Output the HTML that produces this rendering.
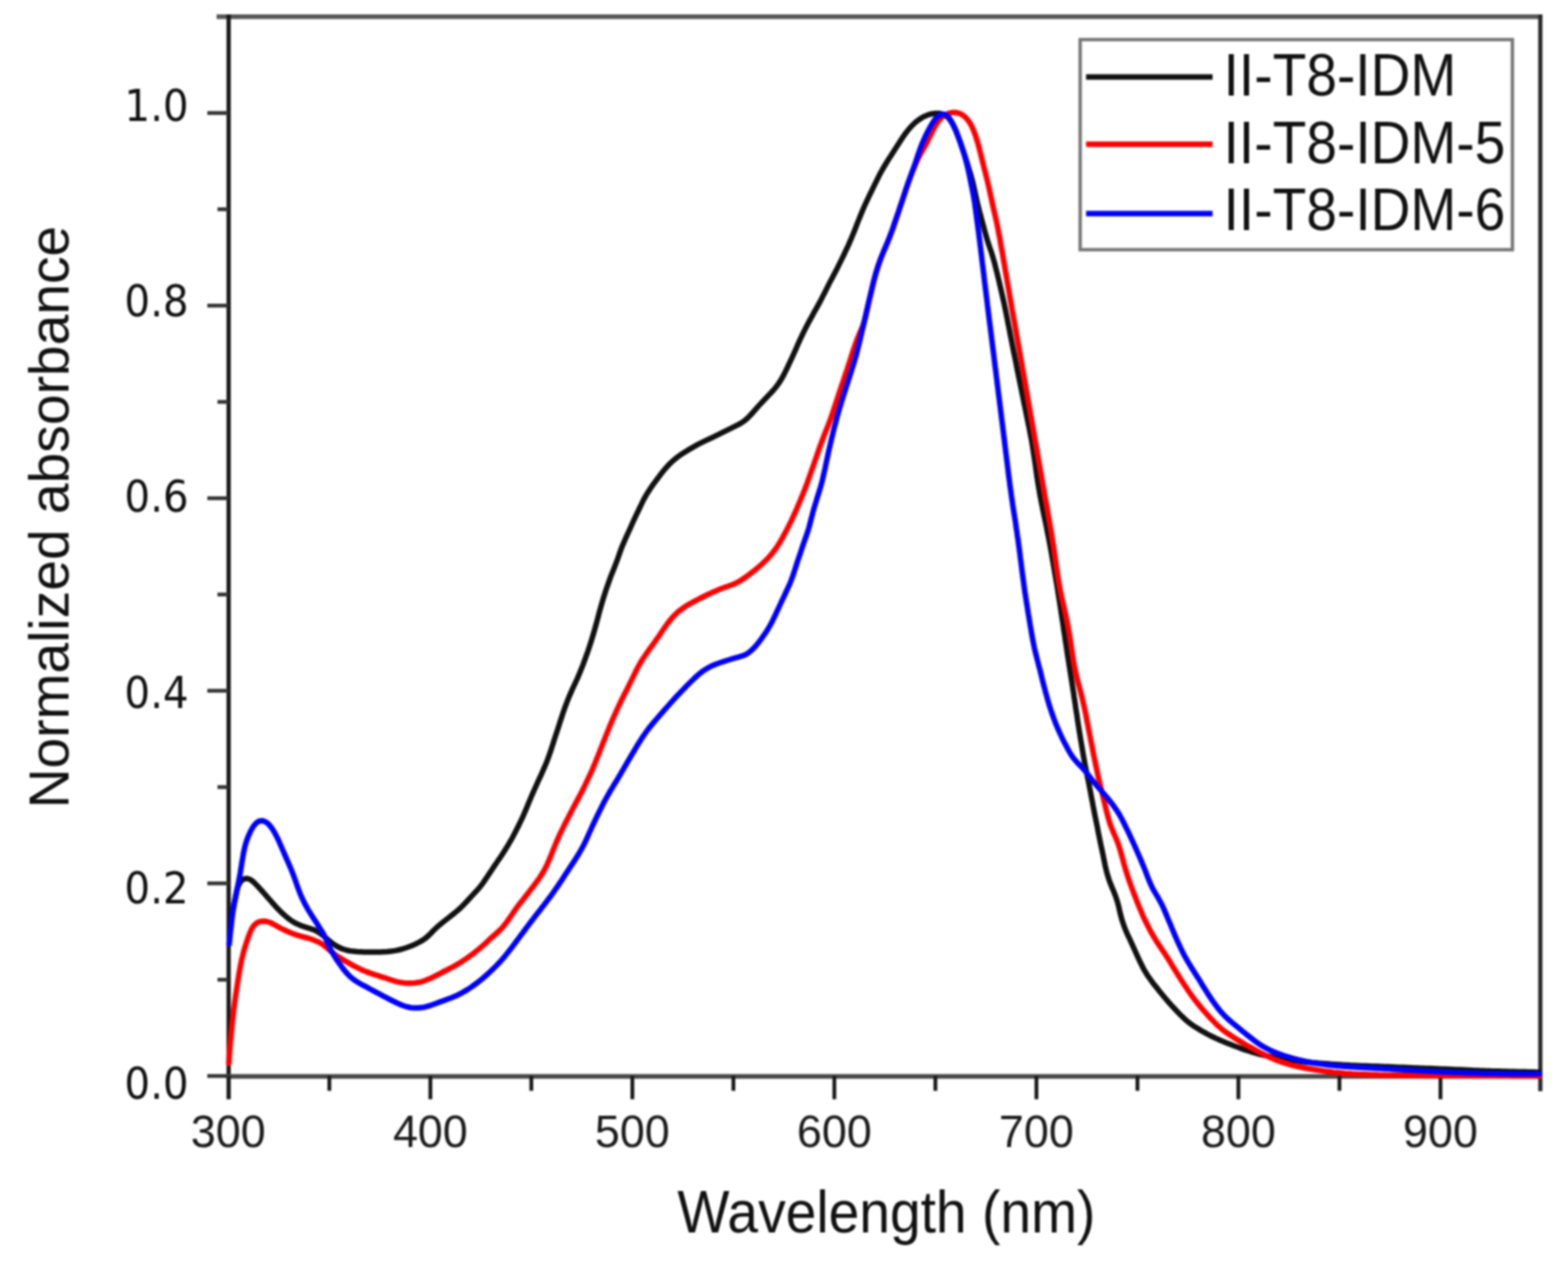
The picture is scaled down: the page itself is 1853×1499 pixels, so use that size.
<!DOCTYPE html>
<html><head><meta charset="utf-8"><title>Normalized absorbance</title>
<style>html,body{margin:0;padding:0;background:#fff;width:1853px;height:1499px;overflow:hidden}svg{display:block;filter:blur(1.1px)}</style>
</head><body>
<svg width="1853" height="1499" viewBox="0 0 1853 1499">
<rect x="0" y="0" width="1853" height="1499" fill="#ffffff"/>
<g><line x1="256" y1="19.7" x2="1822.5" y2="19.7" stroke="#555" stroke-width="5.5"/><line x1="270.2" y1="17" x2="270.2" y2="1275" stroke="#161616" stroke-width="5"/><line x1="1820.3" y1="17" x2="1820.3" y2="1290" stroke="#2a2a2a" stroke-width="5"/><line x1="267.7" y1="1272.4" x2="1822.8" y2="1272.4" stroke="#484848" stroke-width="5.5"/><line x1="389.2" y1="1272" x2="389.2" y2="1289.5" stroke="#181818" stroke-width="4.5"/><line x1="508.6" y1="1272" x2="508.6" y2="1299.5" stroke="#181818" stroke-width="4.5"/><line x1="627.9" y1="1272" x2="627.9" y2="1289.5" stroke="#181818" stroke-width="4.5"/><line x1="747.3" y1="1272" x2="747.3" y2="1299.5" stroke="#181818" stroke-width="4.5"/><line x1="866.7" y1="1272" x2="866.7" y2="1289.5" stroke="#181818" stroke-width="4.5"/><line x1="986.0" y1="1272" x2="986.0" y2="1299.5" stroke="#181818" stroke-width="4.5"/><line x1="1105.4" y1="1272" x2="1105.4" y2="1289.5" stroke="#181818" stroke-width="4.5"/><line x1="1224.8" y1="1272" x2="1224.8" y2="1299.5" stroke="#181818" stroke-width="4.5"/><line x1="1344.2" y1="1272" x2="1344.2" y2="1289.5" stroke="#181818" stroke-width="4.5"/><line x1="1463.5" y1="1272" x2="1463.5" y2="1299.5" stroke="#181818" stroke-width="4.5"/><line x1="1582.9" y1="1272" x2="1582.9" y2="1289.5" stroke="#181818" stroke-width="4.5"/><line x1="1702.3" y1="1272" x2="1702.3" y2="1299.5" stroke="#181818" stroke-width="4.5"/><line x1="270.2" y1="1272" x2="270.2" y2="1299.5" stroke="#181818" stroke-width="5"/><line x1="245" y1="1272.0" x2="270" y2="1272.0" stroke="#333" stroke-width="4.5"/><line x1="257" y1="1158.2" x2="270" y2="1158.2" stroke="#333" stroke-width="4.5"/><line x1="245" y1="1044.3" x2="270" y2="1044.3" stroke="#333" stroke-width="4.5"/><line x1="257" y1="930.5" x2="270" y2="930.5" stroke="#333" stroke-width="4.5"/><line x1="245" y1="816.6" x2="270" y2="816.6" stroke="#333" stroke-width="4.5"/><line x1="257" y1="702.8" x2="270" y2="702.8" stroke="#333" stroke-width="4.5"/><line x1="245" y1="589.0" x2="270" y2="589.0" stroke="#333" stroke-width="4.5"/><line x1="257" y1="475.1" x2="270" y2="475.1" stroke="#333" stroke-width="4.5"/><line x1="245" y1="361.3" x2="270" y2="361.3" stroke="#333" stroke-width="4.5"/><line x1="257" y1="247.4" x2="270" y2="247.4" stroke="#333" stroke-width="4.5"/><line x1="245" y1="133.6" x2="270" y2="133.6" stroke="#333" stroke-width="4.5"/></g>
<g><text x="269.8" y="1356" text-anchor="middle" font-size="53" fill="#1a1a1a" font-family="Liberation Sans, Arial, sans-serif">300</text><text x="508.6" y="1356" text-anchor="middle" font-size="53" fill="#1a1a1a" font-family="Liberation Sans, Arial, sans-serif">400</text><text x="747.3" y="1356" text-anchor="middle" font-size="53" fill="#1a1a1a" font-family="Liberation Sans, Arial, sans-serif">500</text><text x="986.0" y="1356" text-anchor="middle" font-size="53" fill="#1a1a1a" font-family="Liberation Sans, Arial, sans-serif">600</text><text x="1224.8" y="1356" text-anchor="middle" font-size="53" fill="#1a1a1a" font-family="Liberation Sans, Arial, sans-serif">700</text><text x="1463.5" y="1356" text-anchor="middle" font-size="53" fill="#1a1a1a" font-family="Liberation Sans, Arial, sans-serif">800</text><text x="1702.3" y="1356" text-anchor="middle" font-size="53" fill="#1a1a1a" font-family="Liberation Sans, Arial, sans-serif">900</text><text x="147" y="143.0" font-size="51.5" fill="#111" textLength="76" lengthAdjust="spacingAndGlyphs" font-family="DejaVu Sans, sans-serif">1.0</text><text x="147" y="374.3" font-size="51.5" fill="#111" textLength="76" lengthAdjust="spacingAndGlyphs" font-family="DejaVu Sans, sans-serif">0.8</text><text x="147" y="604.6" font-size="51.5" fill="#111" textLength="76" lengthAdjust="spacingAndGlyphs" font-family="DejaVu Sans, sans-serif">0.6</text><text x="147" y="837.2" font-size="51.5" fill="#111" textLength="76" lengthAdjust="spacingAndGlyphs" font-family="DejaVu Sans, sans-serif">0.4</text><text x="147" y="1067.7" font-size="51.5" fill="#111" textLength="76" lengthAdjust="spacingAndGlyphs" font-family="DejaVu Sans, sans-serif">0.2</text><text x="147" y="1298.5" font-size="51.5" fill="#111" textLength="76" lengthAdjust="spacingAndGlyphs" font-family="DejaVu Sans, sans-serif">0.0</text><text x="800.5" y="1456.5" font-size="70" fill="#111" textLength="494" lengthAdjust="spacingAndGlyphs" font-family="Liberation Sans, Arial, sans-serif">Wavelength (nm)</text><text transform="translate(80.6,955.5) rotate(-90)" x="0" y="0" font-size="66.5" fill="#111" textLength="688.5" lengthAdjust="spacingAndGlyphs" font-family="Liberation Sans, Arial, sans-serif">Normalized absorbance</text></g>
<path d="M275.6,1074.8 L276.5,1070.4 L277.3,1066.0 L278.2,1061.5 L279.1,1057.1 L280.0,1052.8 L281.2,1048.5 L282.9,1044.5 L285.3,1041.2 L288.4,1039.0 L292.0,1038.5 L295.5,1039.6 L298.9,1042.0 L302.1,1045.1 L305.1,1048.3 L308.2,1051.7 L311.2,1055.0 L314.1,1058.4 L317.1,1061.8 L320.1,1065.2 L323.0,1068.6 L326.1,1071.9 L329.1,1075.2 L332.3,1078.3 L335.6,1081.4 L339.0,1084.4 L342.5,1087.1 L346.2,1089.6 L350.2,1091.8 L354.2,1093.6 L358.4,1095.2 L362.7,1096.6 L367.0,1097.9 L371.2,1099.3 L375.2,1101.2 L378.9,1103.7 L382.4,1106.4 L385.8,1109.4 L389.2,1112.3 L392.7,1115.1 L396.4,1117.6 L400.3,1119.8 L404.3,1121.7 L408.6,1123.0 L412.9,1124.0 L417.4,1124.6 L421.8,1125.0 L426.3,1125.2 L430.8,1125.4 L435.3,1125.5 L439.8,1125.5 L444.3,1125.5 L448.8,1125.4 L453.3,1125.2 L457.8,1125.0 L462.3,1124.5 L466.7,1123.9 L471.1,1123.0 L475.5,1121.8 L479.8,1120.5 L484.0,1119.0 L488.2,1117.4 L492.3,1115.5 L496.2,1113.4 L500.1,1111.1 L503.7,1108.5 L507.0,1105.5 L510.1,1102.4 L513.3,1099.1 L516.5,1096.0 L519.9,1093.1 L523.4,1090.3 L526.9,1087.5 L530.4,1084.7 L534.0,1081.9 L537.5,1079.1 L540.9,1076.2 L544.3,1073.2 L547.5,1070.0 L550.6,1066.8 L553.6,1063.5 L556.7,1060.1 L559.7,1056.9 L562.8,1053.6 L565.8,1050.2 L568.6,1046.8 L571.3,1043.1 L573.8,1039.4 L576.3,1035.7 L578.8,1031.9 L581.3,1028.2 L583.8,1024.4 L586.3,1020.7 L588.8,1017.0 L591.4,1013.3 L593.9,1009.5 L596.3,1005.8 L598.7,1001.9 L601.0,998.1 L603.3,994.2 L605.5,990.2 L607.6,986.3 L609.7,982.3 L611.7,978.3 L613.7,974.3 L615.7,970.2 L617.6,966.1 L619.4,962.0 L621.1,957.9 L622.9,953.7 L624.6,949.5 L626.3,945.4 L628.1,941.2 L629.9,937.1 L631.7,933.0 L633.6,928.9 L635.4,924.8 L637.3,920.7 L639.2,916.6 L641.0,912.5 L642.8,908.4 L644.6,904.3 L646.3,900.1 L647.9,895.9 L649.4,891.7 L650.9,887.4 L652.3,883.1 L653.7,878.8 L655.0,874.5 L656.4,870.3 L657.8,866.0 L659.2,861.7 L660.6,857.4 L662.0,853.1 L663.4,848.9 L664.8,844.6 L666.2,840.3 L667.7,836.1 L669.3,831.9 L670.9,827.7 L672.6,823.5 L674.4,819.4 L676.2,815.2 L678.1,811.2 L680.0,807.1 L681.9,803.0 L683.7,798.9 L685.4,794.7 L687.1,790.6 L688.8,786.4 L690.3,782.2 L691.9,777.9 L693.4,773.7 L694.9,769.5 L696.3,765.2 L697.7,760.9 L699.1,756.6 L700.4,752.3 L701.7,748.0 L702.9,743.7 L704.1,739.3 L705.3,735.0 L706.5,730.7 L707.6,726.3 L708.8,721.9 L710.0,717.6 L711.2,713.3 L712.5,709.0 L713.8,704.7 L715.2,700.4 L716.6,696.1 L718.1,691.9 L719.6,687.6 L721.1,683.4 L722.7,679.2 L724.4,675.0 L726.1,670.8 L727.7,666.6 L729.3,662.4 L730.8,658.2 L732.3,653.9 L733.8,649.7 L735.4,645.5 L737.2,641.4 L739.0,637.2 L740.8,633.1 L742.7,629.0 L744.6,624.9 L746.4,620.8 L748.2,616.7 L750.1,612.6 L752.0,608.6 L754.0,604.5 L755.9,600.5 L757.9,596.4 L759.8,592.3 L761.9,588.4 L764.1,584.5 L766.5,580.7 L769.0,576.9 L771.6,573.2 L774.2,569.6 L776.9,566.0 L779.6,562.4 L782.3,558.8 L785.2,555.3 L788.1,551.9 L791.2,548.6 L794.4,545.5 L797.8,542.6 L801.3,539.8 L805.0,537.2 L808.8,534.8 L812.6,532.4 L816.5,530.1 L820.4,527.9 L824.3,525.7 L828.3,523.7 L832.4,521.7 L836.4,519.7 L840.5,517.8 L844.5,515.8 L848.6,513.8 L852.6,511.8 L856.6,509.8 L860.7,507.8 L864.7,505.8 L868.7,503.8 L872.7,501.8 L876.6,499.7 L880.2,497.1 L883.5,494.2 L886.6,491.0 L889.6,487.7 L892.6,484.3 L895.6,480.9 L898.6,477.6 L901.7,474.3 L904.8,471.0 L907.9,467.8 L911.0,464.5 L914.0,461.2 L916.9,457.7 L919.6,454.1 L922.1,450.4 L924.4,446.5 L926.5,442.6 L928.5,438.6 L930.5,434.5 L932.4,430.4 L934.3,426.4 L936.2,422.3 L938.0,418.2 L939.9,414.1 L941.7,410.0 L943.5,405.8 L945.4,401.7 L947.3,397.7 L949.2,393.6 L951.2,389.6 L953.3,385.6 L955.4,381.6 L957.5,377.6 L959.7,373.7 L961.8,369.7 L964.0,365.8 L966.2,361.9 L968.4,357.9 L970.5,353.9 L972.5,349.9 L974.6,345.9 L976.6,341.9 L978.6,337.9 L980.6,333.9 L982.7,329.9 L984.8,325.9 L986.9,321.9 L989.0,317.9 L991.0,313.9 L993.0,309.9 L995.0,305.8 L997.0,301.8 L998.9,297.7 L1000.8,293.6 L1002.7,289.6 L1004.5,285.4 L1006.3,281.3 L1008.0,277.1 L1009.7,273.0 L1011.3,268.8 L1012.9,264.6 L1014.6,260.4 L1016.3,256.2 L1018.0,252.0 L1019.7,247.9 L1021.5,243.8 L1023.4,239.7 L1025.3,235.6 L1027.2,231.5 L1029.2,227.5 L1031.2,223.4 L1033.1,219.4 L1035.1,215.3 L1037.1,211.3 L1039.1,207.3 L1041.2,203.3 L1043.4,199.4 L1045.7,195.5 L1048.0,191.7 L1050.4,187.8 L1052.9,184.1 L1055.3,180.3 L1057.7,176.5 L1060.1,172.7 L1062.5,168.9 L1065.0,165.1 L1067.5,161.4 L1070.1,157.7 L1072.8,154.2 L1075.7,150.7 L1078.8,147.5 L1082.1,144.4 L1085.6,141.7 L1089.4,139.2 L1093.3,137.2 L1097.5,135.5 L1101.8,134.4 L1106.1,133.9 L1110.5,134.1 L1114.6,135.1 L1118.3,137.1 L1121.4,140.0 L1124.0,143.5 L1126.3,147.4 L1128.2,151.4 L1130.0,155.5 L1131.6,159.7 L1133.2,163.9 L1134.8,168.2 L1136.3,172.4 L1137.7,176.7 L1139.2,180.9 L1140.6,185.2 L1141.9,189.5 L1143.3,193.8 L1144.6,198.1 L1145.9,202.4 L1147.2,206.7 L1148.4,211.1 L1149.6,215.4 L1150.6,219.8 L1151.6,224.2 L1152.6,228.6 L1153.5,233.0 L1154.5,237.4 L1155.5,241.7 L1156.6,246.1 L1157.7,250.5 L1158.9,254.8 L1160.0,259.2 L1161.2,263.5 L1162.4,267.9 L1163.5,272.2 L1164.7,276.6 L1165.9,280.9 L1167.2,285.2 L1168.6,289.5 L1170.0,293.7 L1171.5,298.0 L1172.8,302.3 L1174.1,306.6 L1175.3,310.9 L1176.4,315.3 L1177.5,319.7 L1178.6,324.0 L1179.6,328.4 L1180.7,332.8 L1181.7,337.2 L1182.7,341.5 L1183.7,345.9 L1184.7,350.3 L1185.7,354.7 L1186.7,359.1 L1187.6,363.5 L1188.5,367.9 L1189.4,372.3 L1190.3,376.8 L1191.1,381.2 L1192.0,385.6 L1192.9,390.0 L1193.7,394.4 L1194.6,398.8 L1195.5,403.3 L1196.3,407.7 L1197.2,412.1 L1198.1,416.5 L1199.0,420.9 L1199.9,425.3 L1200.8,429.7 L1201.6,434.2 L1202.5,438.6 L1203.4,443.0 L1204.3,447.4 L1205.2,451.8 L1206.1,456.2 L1207.0,460.6 L1207.9,465.0 L1208.8,469.4 L1209.7,473.9 L1210.6,478.3 L1211.5,482.7 L1212.4,487.1 L1213.3,491.5 L1214.2,495.9 L1215.1,500.3 L1216.0,504.7 L1216.9,509.1 L1217.7,513.6 L1218.6,518.0 L1219.4,522.4 L1220.1,526.8 L1220.8,531.3 L1221.5,535.7 L1222.2,540.2 L1222.8,544.6 L1223.5,549.1 L1224.1,553.6 L1224.7,558.0 L1225.3,562.5 L1226.0,566.9 L1226.7,571.4 L1227.4,575.8 L1228.2,580.3 L1228.9,584.7 L1229.8,589.1 L1230.6,593.5 L1231.5,597.9 L1232.4,602.4 L1233.3,606.8 L1234.2,611.2 L1235.2,615.6 L1236.1,620.0 L1237.0,624.4 L1237.8,628.8 L1238.7,633.2 L1239.6,637.6 L1240.4,642.1 L1241.2,646.5 L1242.0,650.9 L1242.8,655.4 L1243.6,659.8 L1244.3,664.2 L1245.1,668.7 L1245.9,673.1 L1246.6,677.5 L1247.4,682.0 L1248.1,686.4 L1248.9,690.8 L1249.6,695.3 L1250.3,699.7 L1251.0,704.2 L1251.7,708.6 L1252.4,713.1 L1253.1,717.5 L1253.8,722.0 L1254.4,726.4 L1255.1,730.9 L1255.8,735.3 L1256.5,739.8 L1257.1,744.2 L1257.8,748.7 L1258.5,753.1 L1259.1,757.6 L1259.8,762.0 L1260.5,766.5 L1261.1,770.9 L1261.8,775.4 L1262.5,779.8 L1263.2,784.3 L1263.9,788.7 L1264.6,793.2 L1265.3,797.6 L1266.0,802.1 L1266.7,806.5 L1267.4,811.0 L1268.1,815.4 L1268.8,819.8 L1269.4,824.3 L1270.1,828.7 L1270.8,833.2 L1271.4,837.7 L1272.1,842.1 L1272.8,846.6 L1273.4,851.0 L1274.1,855.5 L1274.8,859.9 L1275.5,864.4 L1276.2,868.8 L1276.9,873.2 L1277.7,877.7 L1278.4,882.1 L1279.2,886.6 L1279.9,891.0 L1280.7,895.4 L1281.5,899.9 L1282.3,904.3 L1283.2,908.7 L1284.1,913.1 L1285.0,917.5 L1285.9,921.9 L1286.8,926.3 L1287.6,930.8 L1288.5,935.2 L1289.3,939.6 L1290.1,944.0 L1291.0,948.4 L1291.8,952.9 L1292.7,957.3 L1293.5,961.7 L1294.4,966.1 L1295.3,970.5 L1296.2,974.9 L1297.1,979.4 L1297.9,983.8 L1298.8,988.2 L1299.7,992.6 L1300.6,997.0 L1301.5,1001.4 L1302.5,1005.8 L1303.4,1010.2 L1304.3,1014.6 L1305.2,1019.0 L1306.1,1023.5 L1307.1,1027.8 L1308.2,1032.2 L1309.5,1036.5 L1310.9,1040.8 L1312.5,1045.0 L1314.2,1049.2 L1315.9,1053.3 L1317.6,1057.5 L1319.1,1061.7 L1320.5,1066.0 L1321.7,1070.3 L1322.7,1074.7 L1323.7,1079.1 L1324.8,1083.4 L1326.0,1087.8 L1327.4,1092.0 L1328.9,1096.3 L1330.6,1100.4 L1332.4,1104.6 L1334.3,1108.6 L1336.2,1112.7 L1338.1,1116.8 L1339.9,1120.9 L1341.8,1125.0 L1343.6,1129.1 L1345.5,1133.2 L1347.4,1137.3 L1349.4,1141.3 L1351.4,1145.3 L1353.7,1149.2 L1356.0,1153.0 L1358.6,1156.7 L1361.3,1160.4 L1364.0,1163.9 L1366.8,1167.4 L1369.6,1171.0 L1372.4,1174.5 L1375.3,1178.0 L1378.2,1181.4 L1381.1,1184.8 L1384.1,1188.2 L1387.2,1191.5 L1390.2,1194.8 L1393.3,1198.0 L1396.5,1201.2 L1399.8,1204.3 L1403.1,1207.3 L1406.7,1210.1 L1410.3,1212.7 L1414.1,1215.1 L1417.9,1217.4 L1421.8,1219.7 L1425.8,1221.9 L1429.7,1224.0 L1433.8,1226.0 L1437.8,1227.9 L1441.9,1229.8 L1446.1,1231.5 L1450.3,1233.2 L1454.4,1234.8 L1458.6,1236.5 L1462.9,1238.0 L1467.1,1239.6 L1471.3,1241.1 L1475.6,1242.5 L1479.9,1243.9 L1484.2,1245.1 L1488.5,1246.3 L1492.9,1247.4 L1497.3,1248.4 L1501.7,1249.3 L1506.1,1250.1 L1510.6,1250.9 L1515.0,1251.7 L1519.4,1252.4 L1523.9,1253.1 L1528.3,1253.7 L1532.8,1254.3 L1537.3,1254.9 L1541.7,1255.4 L1546.2,1255.8 L1550.7,1256.2 L1555.2,1256.6 L1559.7,1257.0 L1564.2,1257.3 L1568.7,1257.6 L1573.1,1257.9 L1577.6,1258.2 L1582.1,1258.5 L1586.6,1258.8 L1591.1,1259.0 L1595.6,1259.3 L1600.1,1259.5 L1604.6,1259.7 L1609.1,1259.9 L1613.6,1260.1 L1618.1,1260.3 L1622.6,1260.5 L1627.1,1260.6 L1631.6,1260.8 L1636.1,1261.0 L1640.6,1261.1 L1645.1,1261.3 L1649.6,1261.5 L1654.1,1261.7 L1658.6,1261.8 L1663.1,1262.0 L1667.6,1262.2 L1672.1,1262.4 L1676.6,1262.6 L1681.1,1262.7 L1685.6,1262.9 L1690.1,1263.1 L1694.5,1263.3 L1699.0,1263.5 L1703.5,1263.7 L1708.0,1263.8 L1712.5,1264.0 L1717.0,1264.2 L1721.5,1264.4 L1726.0,1264.6 L1730.5,1264.8 L1735.0,1265.0 L1739.5,1265.2 L1744.0,1265.4 L1748.5,1265.6 L1753.0,1265.7 L1757.5,1265.9 L1762.0,1266.1 L1766.5,1266.2 L1771.0,1266.3 L1775.5,1266.5 L1780.0,1266.6 L1784.5,1266.7 L1789.0,1266.8 L1793.5,1266.9 L1798.0,1267.0 L1802.5,1267.1 L1807.0,1267.2 L1811.5,1267.3 L1816.0,1267.4 L1819.0,1267.5" fill="none" stroke="#111111" stroke-width="6.5" stroke-linejoin="round" stroke-linecap="round"/>
<path d="M270.5,1257.0 L270.8,1252.5 L271.1,1248.0 L271.4,1243.5 L271.7,1239.0 L272.1,1234.5 L272.5,1230.1 L272.9,1225.6 L273.3,1221.1 L273.7,1216.6 L274.2,1212.1 L274.7,1207.7 L275.2,1203.2 L275.7,1198.7 L276.2,1194.3 L276.8,1189.8 L277.4,1185.3 L278.0,1180.9 L278.6,1176.4 L279.3,1171.9 L279.9,1167.5 L280.6,1163.0 L281.3,1158.6 L282.0,1154.1 L282.7,1149.7 L283.5,1145.3 L284.3,1140.8 L285.2,1136.4 L286.2,1132.0 L287.3,1127.7 L288.4,1123.3 L289.7,1119.0 L291.1,1114.7 L292.5,1110.5 L294.1,1106.2 L295.7,1102.0 L297.5,1098.0 L299.8,1094.4 L302.9,1091.5 L306.5,1089.7 L310.7,1088.9 L314.9,1089.3 L319.0,1090.5 L323.0,1092.5 L326.9,1094.6 L330.8,1096.8 L334.8,1098.8 L338.9,1100.7 L343.0,1102.5 L347.2,1104.2 L351.5,1105.6 L355.8,1106.9 L360.1,1108.0 L364.5,1109.2 L368.7,1110.5 L372.9,1112.2 L377.0,1114.0 L380.8,1116.2 L384.4,1118.8 L387.8,1121.7 L391.2,1124.7 L394.7,1127.6 L398.3,1130.2 L402.1,1132.6 L405.9,1134.9 L409.8,1137.2 L413.8,1139.4 L417.7,1141.6 L421.7,1143.6 L425.7,1145.6 L429.8,1147.5 L434.0,1149.1 L438.2,1150.6 L442.5,1152.1 L446.8,1153.4 L451.1,1154.8 L455.4,1156.2 L459.6,1157.6 L463.9,1159.0 L468.2,1160.3 L472.6,1161.3 L477.0,1161.9 L481.5,1162.3 L485.9,1162.3 L490.4,1162.0 L494.8,1161.3 L499.2,1160.3 L503.4,1158.8 L507.5,1157.1 L511.6,1155.2 L515.6,1153.1 L519.6,1151.1 L523.6,1149.0 L527.6,1147.0 L531.6,1144.9 L535.6,1142.8 L539.5,1140.6 L543.4,1138.3 L547.2,1135.9 L550.9,1133.3 L554.6,1130.7 L558.2,1128.1 L561.8,1125.3 L565.3,1122.5 L568.7,1119.6 L572.1,1116.6 L575.4,1113.6 L578.6,1110.5 L582.0,1107.5 L585.4,1104.5 L588.7,1101.5 L592.0,1098.4 L595.0,1095.1 L597.7,1091.6 L600.4,1087.9 L602.9,1084.2 L605.5,1080.5 L608.0,1076.8 L610.6,1073.1 L613.3,1069.5 L616.1,1066.0 L618.9,1062.4 L621.7,1058.9 L624.4,1055.4 L627.2,1051.8 L629.9,1048.2 L632.6,1044.6 L635.3,1041.0 L637.9,1037.3 L640.3,1033.5 L642.6,1029.7 L644.7,1025.7 L646.7,1021.7 L648.5,1017.6 L650.3,1013.4 L652.0,1009.2 L653.6,1005.1 L655.3,1000.9 L657.0,996.7 L658.8,992.6 L660.6,988.5 L662.5,984.4 L664.5,980.4 L666.5,976.3 L668.5,972.3 L670.6,968.3 L672.6,964.3 L674.7,960.3 L676.8,956.3 L678.9,952.3 L681.0,948.3 L683.1,944.4 L685.2,940.4 L687.3,936.4 L689.3,932.4 L691.3,928.3 L693.3,924.3 L695.2,920.2 L697.1,916.2 L699.0,912.1 L700.8,907.9 L702.5,903.8 L704.2,899.6 L705.9,895.4 L707.6,891.3 L709.2,887.1 L710.9,882.9 L712.5,878.7 L714.2,874.5 L715.8,870.3 L717.5,866.1 L719.2,862.0 L720.9,857.8 L722.6,853.6 L724.4,849.5 L726.3,845.4 L728.1,841.3 L730.0,837.2 L731.9,833.1 L733.8,829.1 L735.8,825.0 L737.8,821.0 L739.9,817.0 L741.9,813.0 L743.9,808.9 L745.9,804.9 L747.9,800.8 L749.8,796.8 L751.8,792.8 L753.9,788.8 L756.1,784.8 L758.4,781.0 L760.8,777.2 L763.3,773.5 L765.9,769.8 L768.5,766.1 L771.2,762.5 L773.8,758.8 L776.4,755.2 L779.0,751.5 L781.5,747.7 L784.0,744.0 L786.6,740.3 L789.2,736.7 L792.0,733.1 L794.9,729.7 L798.0,726.5 L801.3,723.4 L804.8,720.6 L808.4,718.0 L812.2,715.6 L816.1,713.3 L820.1,711.2 L824.1,709.1 L828.1,707.0 L832.1,705.0 L836.1,703.0 L840.2,701.1 L844.3,699.2 L848.4,697.5 L852.6,695.8 L856.8,694.3 L861.1,692.8 L865.3,691.2 L869.4,689.5 L873.3,687.4 L877.2,685.0 L880.9,682.5 L884.5,679.9 L888.1,677.2 L891.7,674.4 L895.1,671.5 L898.5,668.6 L901.8,665.5 L905.1,662.4 L908.2,659.2 L911.2,655.8 L914.0,652.3 L916.7,648.7 L919.2,645.0 L921.6,641.2 L923.8,637.3 L926.0,633.3 L928.2,629.4 L930.2,625.4 L932.3,621.4 L934.3,617.3 L936.2,613.3 L938.1,609.2 L940.0,605.1 L941.8,601.0 L943.5,596.8 L945.3,592.7 L947.0,588.5 L948.7,584.4 L950.4,580.2 L952.0,576.0 L953.6,571.8 L955.1,567.5 L956.6,563.3 L958.1,559.1 L959.6,554.8 L961.1,550.6 L962.6,546.3 L964.1,542.1 L965.6,537.8 L967.0,533.6 L968.5,529.3 L970.0,525.1 L971.6,520.8 L973.2,516.6 L974.8,512.4 L976.5,508.3 L978.2,504.1 L979.8,499.9 L981.4,495.7 L982.9,491.4 L984.3,487.2 L985.7,482.9 L987.2,478.6 L988.6,474.3 L990.0,470.1 L991.4,465.8 L992.8,461.5 L994.2,457.2 L995.7,453.0 L997.1,448.7 L998.5,444.4 L1000.0,440.2 L1001.4,435.9 L1002.8,431.6 L1004.2,427.3 L1005.5,423.1 L1006.9,418.8 L1008.2,414.5 L1009.7,410.2 L1011.2,406.0 L1012.7,401.7 L1014.4,397.6 L1016.2,393.4 L1017.9,389.3 L1019.6,385.1 L1021.1,380.9 L1022.3,376.6 L1023.4,372.2 L1024.3,367.8 L1025.3,363.4 L1026.3,359.0 L1027.3,354.6 L1028.3,350.2 L1029.3,345.9 L1030.4,341.5 L1031.4,337.1 L1032.5,332.7 L1033.6,328.4 L1034.8,324.0 L1036.1,319.7 L1037.4,315.4 L1038.9,311.2 L1040.4,306.9 L1042.0,302.7 L1043.7,298.6 L1045.5,294.4 L1047.2,290.3 L1049.0,286.1 L1050.7,281.9 L1052.3,277.7 L1053.8,273.5 L1055.4,269.3 L1056.8,265.0 L1058.3,260.8 L1059.7,256.5 L1061.2,252.3 L1062.6,248.0 L1064.0,243.7 L1065.5,239.4 L1066.9,235.2 L1068.3,230.9 L1069.7,226.6 L1071.1,222.3 L1072.6,218.1 L1074.1,213.9 L1075.7,209.6 L1077.4,205.5 L1079.0,201.3 L1080.7,197.1 L1082.5,193.0 L1084.3,188.9 L1086.3,184.8 L1088.5,180.9 L1090.7,177.0 L1092.9,173.1 L1095.1,169.1 L1097.1,165.1 L1099.1,161.1 L1101.1,157.0 L1103.1,153.0 L1105.3,149.1 L1107.6,145.2 L1110.2,141.7 L1113.2,138.5 L1116.8,136.0 L1120.7,134.2 L1125.0,133.1 L1129.2,133.0 L1133.4,133.9 L1137.2,135.7 L1140.7,138.4 L1143.6,141.7 L1146.2,145.3 L1148.3,149.2 L1150.2,153.3 L1151.8,157.5 L1153.3,161.7 L1154.6,166.0 L1155.9,170.3 L1157.1,174.7 L1158.2,179.0 L1159.3,183.4 L1160.3,187.8 L1161.4,192.2 L1162.5,196.5 L1163.6,200.9 L1164.7,205.3 L1165.8,209.6 L1166.9,214.0 L1167.9,218.4 L1168.9,222.8 L1169.9,227.2 L1170.8,231.6 L1171.8,236.0 L1172.7,240.4 L1173.7,244.8 L1174.7,249.2 L1175.7,253.5 L1176.7,257.9 L1177.7,262.3 L1178.6,266.7 L1179.5,271.1 L1180.3,275.6 L1181.2,280.0 L1182.0,284.4 L1182.7,288.9 L1183.5,293.3 L1184.3,297.7 L1185.1,302.2 L1185.8,306.6 L1186.6,311.0 L1187.4,315.5 L1188.1,319.9 L1188.9,324.3 L1189.7,328.8 L1190.4,333.2 L1191.2,337.6 L1192.0,342.1 L1192.8,346.5 L1193.5,350.9 L1194.3,355.4 L1195.1,359.8 L1195.8,364.3 L1196.6,368.7 L1197.4,373.1 L1198.2,377.6 L1199.0,382.0 L1199.8,386.4 L1200.5,390.9 L1201.3,395.3 L1202.1,399.7 L1202.9,404.1 L1203.7,408.6 L1204.5,413.0 L1205.2,417.4 L1206.0,421.9 L1206.8,426.3 L1207.6,430.8 L1208.3,435.2 L1209.1,439.6 L1209.9,444.1 L1210.7,448.5 L1211.4,452.9 L1212.2,457.4 L1213.0,461.8 L1213.8,466.2 L1214.5,470.7 L1215.3,475.1 L1216.1,479.5 L1216.9,484.0 L1217.6,488.4 L1218.4,492.8 L1219.2,497.3 L1220.0,501.7 L1220.7,506.1 L1221.5,510.6 L1222.3,515.0 L1223.1,519.4 L1223.8,523.9 L1224.6,528.3 L1225.4,532.7 L1226.2,537.2 L1226.9,541.6 L1227.7,546.0 L1228.5,550.5 L1229.3,554.9 L1230.1,559.4 L1230.8,563.8 L1231.6,568.2 L1232.4,572.7 L1233.2,577.1 L1233.9,581.5 L1234.7,586.0 L1235.5,590.4 L1236.3,594.8 L1237.1,599.3 L1237.9,603.7 L1238.7,608.1 L1239.5,612.5 L1240.2,617.0 L1241.0,621.4 L1241.8,625.9 L1242.5,630.3 L1243.2,634.7 L1243.9,639.2 L1244.6,643.6 L1245.3,648.1 L1245.9,652.5 L1246.6,657.0 L1247.2,661.5 L1247.8,665.9 L1248.5,670.4 L1249.1,674.8 L1249.8,679.3 L1250.5,683.7 L1251.2,688.2 L1252.0,692.6 L1252.8,697.0 L1253.7,701.4 L1254.6,705.8 L1255.6,710.2 L1256.6,714.6 L1257.6,719.0 L1258.6,723.4 L1259.6,727.8 L1260.5,732.2 L1261.4,736.6 L1262.2,741.0 L1263.0,745.5 L1263.8,749.9 L1264.5,754.4 L1265.1,758.8 L1265.8,763.3 L1266.4,767.7 L1267.1,772.2 L1267.8,776.6 L1268.5,781.1 L1269.3,785.5 L1270.1,789.9 L1271.1,794.3 L1272.1,798.7 L1273.1,803.1 L1274.2,807.4 L1275.4,811.8 L1276.6,816.1 L1277.7,820.5 L1278.8,824.9 L1279.8,829.2 L1280.8,833.6 L1281.8,838.0 L1282.7,842.4 L1283.6,846.9 L1284.4,851.3 L1285.3,855.7 L1286.1,860.1 L1287.0,864.5 L1287.9,868.9 L1288.7,873.4 L1289.6,877.8 L1290.5,882.2 L1291.3,886.6 L1292.2,891.0 L1293.1,895.4 L1294.0,899.9 L1294.9,904.3 L1295.8,908.7 L1296.8,913.1 L1297.7,917.5 L1298.7,921.9 L1299.8,926.2 L1300.8,930.6 L1301.9,935.0 L1302.9,939.4 L1304.0,943.7 L1305.0,948.1 L1306.1,952.5 L1307.1,956.9 L1308.2,961.2 L1309.4,965.6 L1310.6,969.9 L1311.9,974.2 L1313.5,978.4 L1315.2,982.6 L1317.0,986.7 L1318.8,990.8 L1320.5,995.0 L1322.0,999.2 L1323.4,1003.5 L1324.6,1007.8 L1325.8,1012.2 L1327.0,1016.5 L1328.1,1020.9 L1329.4,1025.2 L1330.7,1029.5 L1332.0,1033.8 L1333.4,1038.1 L1334.9,1042.3 L1336.4,1046.6 L1338.0,1050.8 L1339.5,1055.0 L1341.2,1059.2 L1342.8,1063.4 L1344.4,1067.6 L1346.1,1071.8 L1347.9,1075.9 L1349.6,1080.1 L1351.4,1084.2 L1353.3,1088.3 L1355.3,1092.3 L1357.3,1096.3 L1359.4,1100.3 L1361.6,1104.2 L1363.9,1108.1 L1366.3,1111.9 L1368.7,1115.7 L1371.2,1119.5 L1373.7,1123.2 L1376.2,1126.9 L1378.7,1130.7 L1381.1,1134.5 L1383.4,1138.3 L1385.8,1142.2 L1388.1,1146.0 L1390.5,1149.9 L1392.9,1153.7 L1395.3,1157.5 L1397.7,1161.3 L1400.2,1165.0 L1402.7,1168.8 L1405.2,1172.5 L1407.8,1176.2 L1410.4,1179.8 L1413.2,1183.4 L1416.0,1186.9 L1418.8,1190.4 L1421.7,1193.8 L1424.7,1197.2 L1427.7,1200.6 L1430.8,1203.9 L1433.9,1207.1 L1437.0,1210.3 L1440.3,1213.4 L1443.7,1216.4 L1447.2,1219.2 L1450.8,1221.8 L1454.6,1224.3 L1458.4,1226.7 L1462.2,1229.1 L1466.1,1231.4 L1469.9,1233.7 L1473.8,1236.0 L1477.8,1238.2 L1481.7,1240.3 L1485.7,1242.5 L1489.6,1244.6 L1493.7,1246.6 L1497.7,1248.6 L1501.8,1250.5 L1505.9,1252.2 L1510.1,1253.9 L1514.3,1255.4 L1518.6,1256.9 L1522.9,1258.2 L1527.2,1259.3 L1531.6,1260.4 L1536.0,1261.3 L1540.4,1262.2 L1544.9,1263.0 L1549.3,1263.8 L1553.7,1264.5 L1558.2,1265.2 L1562.6,1265.9 L1567.1,1266.6 L1571.5,1267.1 L1576.0,1267.7 L1580.5,1268.1 L1585.0,1268.5 L1589.5,1268.9 L1594.0,1269.2 L1598.4,1269.5 L1602.9,1269.7 L1607.4,1269.9 L1611.9,1270.1 L1616.4,1270.3 L1620.9,1270.5 L1625.4,1270.6 L1629.9,1270.8 L1634.4,1270.9 L1638.9,1270.9 L1643.4,1271.0 L1647.9,1271.1 L1652.4,1271.1 L1656.9,1271.2 L1661.4,1271.2 L1665.9,1271.2 L1670.4,1271.3 L1674.9,1271.3 L1679.4,1271.3 L1683.9,1271.4 L1688.5,1271.4 L1693.0,1271.4 L1697.5,1271.4 L1702.0,1271.5 L1706.5,1271.5 L1711.0,1271.5 L1715.5,1271.5 L1720.0,1271.6 L1724.5,1271.6 L1729.0,1271.6 L1733.5,1271.6 L1738.0,1271.6 L1742.5,1271.7 L1747.0,1271.7 L1751.5,1271.7 L1756.0,1271.7 L1760.5,1271.7 L1765.0,1271.8 L1769.5,1271.8 L1774.0,1271.8 L1778.5,1271.8 L1783.0,1271.8 L1787.5,1271.9 L1792.0,1271.9 L1796.5,1271.9 L1801.0,1271.9 L1805.5,1271.9 L1810.0,1272.0 L1814.5,1272.0 L1819.0,1272.0" fill="none" stroke="#ff0000" stroke-width="6.5" stroke-linejoin="round" stroke-linecap="round"/>
<path d="M270.9,1116.0 L271.4,1111.5 L271.8,1107.0 L272.3,1102.6 L272.8,1098.1 L273.3,1093.6 L273.8,1089.2 L274.3,1084.7 L274.9,1080.2 L275.5,1075.8 L276.2,1071.3 L277.0,1066.9 L277.9,1062.5 L278.8,1058.1 L279.7,1053.7 L280.6,1049.3 L281.5,1044.8 L282.4,1040.4 L283.2,1036.0 L284.0,1031.6 L284.7,1027.1 L285.4,1022.7 L286.1,1018.3 L286.9,1013.8 L287.6,1009.4 L288.5,1005.0 L289.5,1000.6 L290.7,996.3 L292.1,992.0 L293.8,987.8 L295.6,983.8 L297.7,979.8 L300.1,976.1 L302.9,972.9 L306.1,970.7 L309.8,970.2 L313.4,971.3 L316.8,973.7 L319.7,977.0 L322.3,980.6 L324.6,984.4 L326.7,988.4 L328.7,992.4 L330.5,996.5 L332.3,1000.7 L334.1,1004.8 L335.9,1008.9 L337.7,1013.1 L339.5,1017.2 L341.3,1021.3 L343.1,1025.4 L344.8,1029.6 L346.5,1033.8 L348.0,1038.0 L349.5,1042.2 L351.0,1046.5 L352.5,1050.7 L354.1,1054.9 L355.8,1059.1 L357.7,1063.2 L359.7,1067.2 L361.8,1071.2 L364.0,1075.1 L366.3,1078.9 L368.7,1082.7 L371.1,1086.5 L373.6,1090.3 L376.0,1094.1 L378.4,1097.9 L380.8,1101.7 L383.0,1105.6 L385.0,1109.7 L386.8,1113.7 L388.6,1117.9 L390.5,1121.9 L392.6,1125.9 L394.9,1129.8 L397.3,1133.6 L399.8,1137.3 L402.4,1141.0 L405.0,1144.6 L407.8,1148.1 L410.8,1151.5 L414.0,1154.7 L417.4,1157.5 L421.0,1160.1 L424.9,1162.5 L428.8,1164.6 L432.8,1166.7 L436.8,1168.8 L440.7,1171.0 L444.7,1173.1 L448.6,1175.2 L452.6,1177.3 L456.6,1179.4 L460.6,1181.5 L464.6,1183.5 L468.7,1185.5 L472.7,1187.4 L476.9,1189.0 L481.2,1190.3 L485.6,1191.2 L490.0,1191.6 L494.4,1191.6 L498.9,1191.1 L503.2,1190.2 L507.5,1189.0 L511.8,1187.5 L516.0,1186.0 L520.2,1184.4 L524.5,1182.9 L528.7,1181.3 L532.9,1179.7 L537.1,1178.0 L541.2,1176.2 L545.2,1174.1 L549.1,1171.9 L552.9,1169.6 L556.7,1167.1 L560.3,1164.5 L563.9,1161.8 L567.5,1159.1 L570.9,1156.2 L574.3,1153.2 L577.7,1150.2 L581.0,1147.1 L584.2,1144.0 L587.4,1140.8 L590.5,1137.6 L593.5,1134.2 L596.4,1130.8 L599.2,1127.3 L602.0,1123.7 L604.7,1120.2 L607.4,1116.6 L610.1,1113.0 L612.8,1109.4 L615.5,1105.8 L618.2,1102.2 L620.9,1098.5 L623.6,1094.9 L626.3,1091.3 L629.0,1087.8 L631.7,1084.2 L634.5,1080.6 L637.3,1077.1 L640.0,1073.5 L642.8,1070.0 L645.5,1066.4 L648.2,1062.8 L650.9,1059.2 L653.5,1055.6 L656.1,1051.9 L658.7,1048.2 L661.2,1044.4 L663.7,1040.7 L666.1,1036.9 L668.6,1033.1 L671.1,1029.4 L673.5,1025.6 L676.0,1021.9 L678.5,1018.1 L680.9,1014.3 L683.3,1010.5 L685.6,1006.6 L687.8,1002.7 L689.9,998.7 L691.9,994.7 L693.8,990.6 L695.6,986.5 L697.5,982.4 L699.3,978.3 L701.2,974.2 L703.1,970.1 L705.0,966.1 L707.0,962.0 L709.0,958.0 L711.0,954.0 L713.0,949.9 L715.1,946.0 L717.3,942.0 L719.5,938.1 L721.7,934.2 L724.1,930.4 L726.4,926.5 L728.8,922.7 L731.1,918.8 L733.4,914.9 L735.6,911.1 L737.9,907.2 L740.1,903.3 L742.4,899.4 L744.7,895.5 L747.0,891.6 L749.3,887.8 L751.6,883.9 L753.9,880.0 L756.3,876.2 L758.7,872.4 L761.2,868.7 L763.8,865.0 L766.5,861.4 L769.3,857.9 L772.2,854.4 L775.1,851.0 L778.0,847.6 L781.0,844.2 L783.9,840.8 L786.9,837.4 L789.9,834.1 L792.9,830.7 L795.9,827.4 L798.9,824.0 L802.0,820.8 L805.1,817.5 L808.3,814.3 L811.4,811.0 L814.6,807.8 L817.7,804.7 L821.0,801.5 L824.3,798.5 L827.8,795.6 L831.3,792.9 L835.1,790.5 L839.0,788.3 L843.1,786.4 L847.2,784.8 L851.5,783.3 L855.8,781.9 L860.0,780.5 L864.3,779.2 L868.6,777.9 L873.0,776.7 L877.2,775.4 L881.3,773.7 L885.0,771.4 L888.4,768.5 L891.6,765.4 L894.5,762.0 L897.3,758.5 L900.0,754.9 L902.6,751.2 L905.1,747.5 L907.5,743.7 L909.8,739.8 L912.0,735.8 L914.0,731.8 L915.9,727.8 L917.8,723.7 L919.7,719.6 L921.6,715.5 L923.5,711.4 L925.4,707.4 L927.3,703.3 L929.2,699.2 L931.1,695.1 L933.0,691.1 L934.7,686.9 L936.3,682.7 L937.7,678.4 L939.1,674.2 L940.5,669.9 L941.9,665.6 L943.3,661.3 L944.7,657.1 L946.2,652.8 L947.6,648.5 L949.0,644.3 L950.5,640.0 L952.0,635.8 L953.5,631.5 L954.9,627.2 L956.2,622.9 L957.3,618.6 L958.4,614.2 L959.6,609.9 L960.7,605.5 L961.9,601.2 L963.2,596.9 L964.5,592.6 L965.8,588.3 L967.2,584.0 L968.5,579.7 L969.8,575.3 L971.0,571.0 L972.1,566.7 L973.1,562.3 L974.1,557.9 L975.1,553.5 L976.0,549.1 L976.9,544.7 L977.9,540.3 L978.8,535.9 L979.8,531.5 L980.8,527.1 L981.8,522.7 L982.8,518.3 L983.9,514.0 L984.9,509.6 L986.0,505.2 L987.2,500.9 L988.3,496.5 L989.5,492.2 L990.7,487.8 L991.9,483.5 L993.2,479.2 L994.5,474.9 L995.9,470.6 L997.2,466.3 L998.6,462.0 L999.9,457.7 L1001.3,453.4 L1002.7,449.2 L1004.1,444.9 L1005.5,440.6 L1006.8,436.3 L1008.2,432.0 L1009.5,427.7 L1010.8,423.4 L1012.0,419.1 L1013.1,414.7 L1014.2,410.3 L1015.3,406.0 L1016.3,401.6 L1017.4,397.2 L1018.4,392.8 L1019.5,388.5 L1020.5,384.1 L1021.5,379.7 L1022.5,375.3 L1023.5,370.9 L1024.5,366.5 L1025.5,362.2 L1026.5,357.8 L1027.5,353.4 L1028.6,349.0 L1029.6,344.6 L1030.7,340.2 L1031.7,335.9 L1032.8,331.5 L1033.9,327.2 L1035.1,322.8 L1036.5,318.5 L1037.8,314.2 L1039.3,310.0 L1040.8,305.8 L1042.5,301.6 L1044.2,297.4 L1046.0,293.3 L1047.7,289.1 L1049.4,285.0 L1051.1,280.8 L1052.7,276.6 L1054.3,272.4 L1055.8,268.1 L1057.2,263.9 L1058.7,259.6 L1060.1,255.3 L1061.6,251.1 L1063.0,246.8 L1064.4,242.6 L1065.9,238.3 L1067.3,234.0 L1068.7,229.7 L1070.1,225.5 L1071.5,221.2 L1073.0,216.9 L1074.5,212.7 L1076.0,208.5 L1077.5,204.2 L1079.1,200.0 L1080.6,195.8 L1082.1,191.5 L1083.5,187.3 L1084.9,183.0 L1086.4,178.7 L1087.9,174.5 L1089.5,170.3 L1091.3,166.2 L1093.1,162.1 L1095.1,158.0 L1097.2,154.0 L1099.3,150.1 L1101.6,146.2 L1104.0,142.4 L1106.7,139.0 L1109.9,136.4 L1113.4,135.1 L1116.9,135.5 L1120.1,137.7 L1122.7,140.9 L1125.0,144.7 L1127.0,148.7 L1128.9,152.8 L1130.6,157.0 L1132.2,161.2 L1133.8,165.4 L1135.3,169.6 L1136.7,173.9 L1138.1,178.2 L1139.5,182.5 L1140.7,186.8 L1141.9,191.1 L1143.0,195.5 L1144.0,199.9 L1145.0,204.3 L1145.9,208.7 L1146.8,213.1 L1147.7,217.5 L1148.6,221.9 L1149.5,226.3 L1150.3,230.7 L1151.1,235.2 L1151.8,239.6 L1152.4,244.1 L1153.0,248.5 L1153.6,253.0 L1154.2,257.5 L1154.8,261.9 L1155.4,266.4 L1156.0,270.8 L1156.6,275.3 L1157.1,279.8 L1157.7,284.2 L1158.2,288.7 L1158.8,293.2 L1159.3,297.6 L1159.9,302.1 L1160.4,306.6 L1160.9,311.0 L1161.5,315.5 L1162.0,320.0 L1162.6,324.4 L1163.1,328.9 L1163.6,333.4 L1164.2,337.8 L1164.7,342.3 L1165.3,346.8 L1165.8,351.2 L1166.4,355.7 L1166.9,360.2 L1167.5,364.6 L1168.0,369.1 L1168.6,373.6 L1169.1,378.0 L1169.7,382.5 L1170.3,387.0 L1170.8,391.4 L1171.4,395.9 L1171.9,400.4 L1172.5,404.8 L1173.0,409.3 L1173.6,413.8 L1174.2,418.2 L1174.7,422.7 L1175.3,427.2 L1175.8,431.6 L1176.4,436.1 L1177.0,440.6 L1177.5,445.0 L1178.1,449.5 L1178.6,454.0 L1179.2,458.4 L1179.7,462.9 L1180.3,467.3 L1180.9,471.8 L1181.4,476.3 L1182.0,480.7 L1182.5,485.2 L1183.1,489.7 L1183.6,494.1 L1184.2,498.6 L1184.8,503.1 L1185.3,507.5 L1185.9,512.0 L1186.4,516.5 L1187.0,520.9 L1187.5,525.4 L1188.1,529.9 L1188.6,534.3 L1189.2,538.8 L1189.7,543.3 L1190.3,547.7 L1190.8,552.2 L1191.4,556.7 L1191.9,561.1 L1192.5,565.6 L1193.1,570.1 L1193.6,574.5 L1194.3,579.0 L1194.9,583.4 L1195.5,587.9 L1196.2,592.3 L1196.8,596.8 L1197.5,601.2 L1198.2,605.7 L1198.9,610.1 L1199.6,614.6 L1200.3,619.0 L1200.9,623.5 L1201.6,627.9 L1202.2,632.4 L1202.9,636.8 L1203.5,641.3 L1204.1,645.8 L1204.7,650.2 L1205.3,654.7 L1205.8,659.2 L1206.4,663.6 L1207.0,668.1 L1207.5,672.5 L1208.1,677.0 L1208.7,681.5 L1209.3,685.9 L1209.9,690.4 L1210.5,694.9 L1211.1,699.3 L1211.8,703.8 L1212.5,708.2 L1213.2,712.7 L1213.9,717.1 L1214.6,721.5 L1215.3,726.0 L1216.1,730.4 L1216.8,734.9 L1217.5,739.3 L1218.3,743.7 L1219.0,748.2 L1219.8,752.6 L1220.6,757.0 L1221.5,761.4 L1222.4,765.8 L1223.4,770.2 L1224.5,774.6 L1225.6,779.0 L1226.7,783.3 L1227.8,787.7 L1229.0,792.0 L1230.1,796.4 L1231.1,800.8 L1232.2,805.1 L1233.3,809.5 L1234.5,813.9 L1235.6,818.2 L1236.8,822.5 L1238.0,826.9 L1239.3,831.2 L1240.6,835.5 L1242.0,839.8 L1243.4,844.0 L1245.0,848.3 L1246.5,852.5 L1248.2,856.7 L1249.9,860.8 L1251.7,864.9 L1253.6,869.0 L1255.5,873.1 L1257.5,877.1 L1259.6,881.1 L1261.7,885.1 L1263.9,889.0 L1266.2,892.9 L1268.8,896.5 L1271.7,899.9 L1274.8,903.2 L1277.9,906.4 L1280.9,909.7 L1283.8,913.1 L1286.5,916.7 L1289.2,920.3 L1292.0,923.8 L1294.9,927.3 L1297.8,930.7 L1300.8,934.1 L1303.7,937.5 L1306.6,940.9 L1309.5,944.4 L1312.3,947.9 L1315.1,951.5 L1317.7,955.1 L1320.2,958.8 L1322.6,962.6 L1324.8,966.5 L1326.9,970.5 L1328.9,974.5 L1330.9,978.6 L1332.9,982.6 L1334.8,986.7 L1336.7,990.8 L1338.6,994.9 L1340.5,999.0 L1342.3,1003.1 L1344.1,1007.2 L1345.9,1011.3 L1347.7,1015.4 L1349.5,1019.6 L1351.2,1023.7 L1352.9,1027.9 L1354.5,1032.1 L1356.1,1036.3 L1357.8,1040.5 L1359.5,1044.6 L1361.4,1048.7 L1363.5,1052.7 L1365.8,1056.6 L1368.1,1060.4 L1370.3,1064.3 L1372.4,1068.2 L1374.4,1072.3 L1376.2,1076.4 L1378.0,1080.6 L1379.7,1084.7 L1381.4,1088.9 L1383.2,1093.0 L1384.9,1097.2 L1386.6,1101.3 L1388.4,1105.5 L1390.2,1109.6 L1392.0,1113.7 L1393.9,1117.8 L1395.8,1121.8 L1397.8,1125.9 L1399.9,1129.9 L1402.0,1133.8 L1404.3,1137.7 L1406.6,1141.6 L1409.0,1145.4 L1411.4,1149.2 L1413.8,1153.0 L1416.2,1156.8 L1418.6,1160.6 L1420.9,1164.5 L1423.3,1168.3 L1425.7,1172.1 L1428.1,1175.9 L1430.6,1179.6 L1433.1,1183.4 L1435.8,1187.0 L1438.4,1190.6 L1441.2,1194.1 L1444.2,1197.6 L1447.2,1200.8 L1450.5,1204.0 L1453.8,1207.0 L1457.2,1209.9 L1460.7,1212.8 L1464.1,1215.6 L1467.6,1218.5 L1471.1,1221.3 L1474.6,1224.1 L1478.2,1226.9 L1481.7,1229.7 L1485.3,1232.3 L1489.0,1234.9 L1492.9,1237.2 L1496.8,1239.4 L1500.8,1241.4 L1504.9,1243.2 L1509.1,1244.9 L1513.3,1246.5 L1517.5,1248.0 L1521.8,1249.4 L1526.1,1250.7 L1530.5,1251.9 L1534.8,1253.0 L1539.2,1254.0 L1543.6,1255.0 L1548.0,1255.8 L1552.5,1256.6 L1556.9,1257.3 L1561.4,1257.9 L1565.8,1258.5 L1570.3,1259.0 L1574.8,1259.5 L1579.2,1259.9 L1583.7,1260.3 L1588.2,1260.7 L1592.7,1261.0 L1597.2,1261.3 L1601.7,1261.6 L1606.2,1261.8 L1610.7,1262.1 L1615.2,1262.3 L1619.7,1262.5 L1624.2,1262.7 L1628.6,1262.9 L1633.1,1263.2 L1637.6,1263.4 L1642.1,1263.6 L1646.6,1263.9 L1651.1,1264.2 L1655.6,1264.4 L1660.1,1264.7 L1664.6,1265.0 L1669.1,1265.3 L1673.6,1265.5 L1678.1,1265.8 L1682.6,1266.1 L1687.0,1266.3 L1691.5,1266.6 L1696.0,1266.8 L1700.5,1267.0 L1705.0,1267.2 L1709.5,1267.4 L1714.0,1267.6 L1718.5,1267.8 L1723.0,1267.9 L1727.5,1268.1 L1732.0,1268.2 L1736.5,1268.4 L1741.0,1268.5 L1745.5,1268.6 L1750.0,1268.8 L1754.5,1268.9 L1759.0,1269.0 L1763.5,1269.1 L1768.0,1269.1 L1772.5,1269.2 L1777.0,1269.3 L1781.5,1269.3 L1786.0,1269.4 L1790.5,1269.4 L1795.0,1269.4 L1799.5,1269.5 L1804.0,1269.5 L1808.5,1269.5 L1813.0,1269.6 L1817.5,1269.6 L1819.0,1269.6" fill="none" stroke="#0000ff" stroke-width="6.5" stroke-linejoin="round" stroke-linecap="round"/>
<g><rect x="1276.5" y="46.8" width="510.8" height="248.4" fill="#fff" stroke="#777" stroke-width="4"/><line x1="1283.5" y1="91.1" x2="1433" y2="91.1" stroke="#111111" stroke-width="6.5"/><text x="1446" y="113.2" font-size="70" fill="#111" textLength="275" lengthAdjust="spacingAndGlyphs" font-family="Liberation Sans, Arial, sans-serif">II-T8-IDM</text><line x1="1283.5" y1="170.6" x2="1433" y2="170.6" stroke="#ff0000" stroke-width="6.5"/><text x="1446" y="192.5" font-size="70" fill="#111" textLength="333" lengthAdjust="spacingAndGlyphs" font-family="Liberation Sans, Arial, sans-serif">II-T8-IDM-5</text><line x1="1283.5" y1="252.6" x2="1433" y2="252.6" stroke="#0000ff" stroke-width="6.5"/><text x="1446" y="271.7" font-size="70" fill="#111" textLength="333" lengthAdjust="spacingAndGlyphs" font-family="Liberation Sans, Arial, sans-serif">II-T8-IDM-6</text></g>
</svg>
</body></html>
